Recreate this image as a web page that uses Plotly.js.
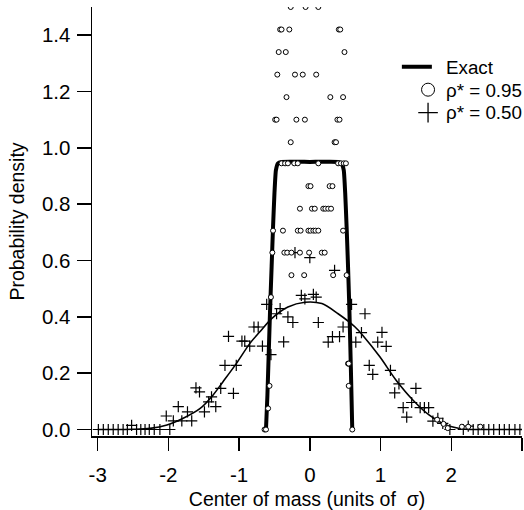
<!DOCTYPE html>
<html><head><meta charset="utf-8">
<script src="https://cdn.plot.ly/plotly-3.0.1.min.js"></script>
<style>html,body{margin:0;padding:0;background:#fff}#chart{width:524px;height:510px}</style>
</head><body><div id="chart"></div>
<script>
// Exact curve (thick), rho* = 0.95
const exactX = [-0.62, -0.60, -0.58, -0.56, -0.54, -0.52, -0.50, -0.48, -0.45, -0.40, 0.00, 0.40, 0.45, 0.48, 0.50, 0.52, 0.54, 0.56, 0.58, 0.60];
const exactY = [0.00, 0.12, 0.28, 0.44, 0.58, 0.72, 0.84, 0.92, 0.945, 0.95, 0.95, 0.95, 0.945, 0.92, 0.84, 0.72, 0.58, 0.42, 0.22, 0.00];

// Exact curve (thin), rho* = 0.50
const fitX = [-3.0, -2.5, -2.26, -2.02, -1.79, -1.55, -1.37, -1.23, -1.04, -0.85, -0.71, -0.54, -0.31, -0.07, 0.17, 0.40, 0.64, 0.75, 0.99, 1.22, 1.46, 1.69, 1.93, 2.17, 2.5, 3.0];
const fitY = [0.0, 0.001, 0.004, 0.016, 0.040, 0.075, 0.122, 0.169, 0.234, 0.305, 0.346, 0.394, 0.435, 0.452, 0.447, 0.411, 0.364, 0.334, 0.258, 0.175, 0.104, 0.051, 0.016, 0.002, 0.0, 0.0];

// Simulation, rho* = 0.95 (circles)
const circX = [
  -0.27, -0.06, 0.12,
  -0.42, -0.40, -0.29, 0.41, 0.43,
  -0.44, -0.34, 0.49,
  -0.46, -0.21, -0.10, 0.09,
  -0.33, 0.29, 0.47,
  -0.49, -0.47, -0.19, -0.07, 0.39, 0.42,
  -0.27, 0.35, 0.37,
  -0.40, -0.35, -0.31, -0.22, -0.17, 0.12, 0.40, 0.44, 0.48, 0.51,
  -0.02, 0.01, 0.28, 0.32,
  -0.14, 0.03, 0.07, 0.19, 0.22, 0.26, 0.30,
  -0.52, -0.38, -0.17, -0.13, -0.02, 0.01, 0.05, 0.08, 0.12, 0.47,
  -0.53, -0.36, -0.32, -0.26, -0.14, -0.01, 0.17, 0.21,
  -0.26, -0.08, 0.33, 0.52,
  -0.55,
  0.54, 0.55,
  -0.57, 0.55,
  -0.59,
  -0.64, -0.62, 0.60,
  1.80, 1.89, 1.95, 2.15, 2.24, 2.41
];
const circY = [
  1.50, 1.50, 1.50,
  1.42, 1.42, 1.42, 1.42, 1.42,
  1.34, 1.34, 1.34,
  1.26, 1.26, 1.26, 1.26,
  1.18, 1.18, 1.18,
  1.10, 1.10, 1.10, 1.10, 1.10, 1.10,
  1.02, 1.02, 1.02,
  0.945, 0.945, 0.945, 0.945, 0.945, 0.945, 0.945, 0.945, 0.945, 0.945,
  0.864, 0.864, 0.864, 0.864,
  0.784, 0.784, 0.784, 0.784, 0.784, 0.784, 0.784,
  0.706, 0.706, 0.706, 0.706, 0.706, 0.706, 0.706, 0.706, 0.706, 0.706,
  0.628, 0.628, 0.628, 0.628, 0.628, 0.628, 0.628, 0.628,
  0.548, 0.548, 0.548, 0.548,
  0.47,
  0.234, 0.234,
  0.155, 0.155,
  0.075,
  0.0, 0.0, 0.0,
  0.035, 0.02, 0.005, 0.01, 0.01, 0.01
];

// Simulation, rho* = 0.50 (pluses)
const plusX = [
  -2.99, -2.92, -2.85, -2.78, -2.71, -2.64, -2.58, -2.52, -2.45, -2.39, -2.33, -2.27, -2.20, -2.12, -1.98,
  -2.03, -1.93, -1.86, -1.81, -1.73, -1.67, -1.61, -1.56, -1.49, -1.43, -1.39, -1.33, -1.26, -1.20, -1.15, -1.08, -1.04,
  -0.96, -0.92, -0.85, -0.79, -0.73, -0.67, -0.61, -0.55,
  -0.47, -0.42, -0.37, -0.31, -0.24, -0.12, -0.07, 0.05, 0.09, 0.12, 0.26, 0.32, 0.42, 0.47,
  0.59, 0.65, 0.73, 0.78, 0.84, 0.89, 0.96, 1.02, 1.08, 1.14, 1.20, 1.26, 1.32, 1.37, 1.44, 1.50,
  1.56, 1.62, 1.68, 1.74, 1.81, 1.88,
  -0.21, 0.00, 0.35,
  1.98, 2.17, 2.24, 2.31, 2.38, 2.46, 2.53, 2.60, 2.68, 2.75, 2.82, 2.90, 2.97
];
const plusY = [
  0, 0, 0, 0, 0, 0, 0, 0.015, 0, 0, 0, 0, 0, 0, 0,
  0.048, 0.031, 0.081, 0.031, 0.063, 0.031, 0.148, 0.134, 0.063, 0.098, 0.116, 0.081, 0.146, 0.228, 0.331, 0.128, 0.228,
  0.314, 0.314, 0.296, 0.364, 0.364, 0.296, 0.444, 0.266,
  0.411, 0.429, 0.311, 0.40, 0.38, 0.476, 0.464, 0.48, 0.47, 0.38, 0.31, 0.33, 0.33, 0.364,
  0.444, 0.31, 0.344, 0.411, 0.228, 0.196, 0.31, 0.345, 0.295, 0.21, 0.13, 0.162, 0.078, 0.044, 0.096, 0.146,
  0.078, 0.078, 0.078, 0.03, 0.04, 0.022,
  0.628, 0.61, 0.565,
  0.0, 0.0, 0.012, 0.0, 0.0, 0.0, 0.0, 0.0, 0.0, 0.0, 0.0, 0.0, 0.0
];

const legendNames = ['Exact', 'ρ* = 0.95', 'ρ* = 0.50'];
const xTickVals = [-3, -2, -1, 0, 1, 2, 3];
const xTickText = ['-3', '-2', '-1', '0', '1', '2', '3'];
const yTickVals = [0, 0.2, 0.4, 0.6, 0.8, 1.0, 1.2, 1.4];
const yTickText = ['0.0', '0.2', '0.4', '0.6', '0.8', '1.0', '1.2', '1.4'];

const FONT = 'Liberation Sans, Arial, Helvetica, sans-serif';
const legendRowsY = [0.860, 0.8065, 0.753];  // paper positions of the three key rows

const traces = [
  {x: fitX, y: fitY, mode: 'lines', line: {color: '#000', width: 1.6, shape: 'spline', smoothing: 0.8},
   showlegend: false, hoverinfo: 'skip'},
  {x: exactX, y: exactY, mode: 'lines', name: ' ', legend: 'legend',
   line: {color: '#000', width: 4, shape: 'spline', smoothing: 0.4}},
  {x: plusX, y: plusY, mode: 'markers', showlegend: false,
   marker: {symbol: 'cross-thin-open', size: 8, color: '#000', line: {color: '#000', width: 1.2}}},
  {x: circX, y: circY, mode: 'markers', showlegend: false,
   marker: {symbol: 'circle', size: 5, color: '#fff', line: {color: '#000', width: 1}}},
  // legend-only key symbols (no data drawn)
  {x: [null], y: [null], mode: 'markers', name: ' ', legend: 'legend2',
   marker: {symbol: 'circle-open', size: 13, color: '#000', line: {color: '#000', width: 1}}},
  {x: [null], y: [null], mode: 'markers', name: ' ', legend: 'legend3',
   marker: {symbol: 'cross-thin-open', size: 14, color: '#000', line: {color: '#000', width: 1.3}}}
];

function legendAt(xPaper, yPaper) {
  return {x: xPaper, y: yPaper, xanchor: 'left', yanchor: 'middle', bgcolor: 'rgba(0,0,0,0)',
          font: {family: FONT, size: 19.5, color: '#000'}, itemsizing: 'trace', tracegroupgap: 0};
}

const annotations = legendNames.map((t, i) => ({
  text: t, xref: 'paper', yref: 'paper', x: 0.819, y: legendRowsY[i],
  xanchor: 'left', yanchor: 'middle', showarrow: false,
  font: {family: FONT, size: 18.8, color: '#000'}
}));

const layout = {
  width: 524, height: 510,
  margin: {l: 92, r: 2, t: 7, b: 74, autoexpand: false},
  paper_bgcolor: '#fff', plot_bgcolor: '#fff',
  font: {family: FONT, size: 20, color: '#000'},
  showlegend: true,
  legend: legendAt(0.709, legendRowsY[0]),
  legend2: legendAt(0.735, legendRowsY[1]),
  legend3: legendAt(0.735, legendRowsY[2]),
  annotations: annotations,
  xaxis: {range: [-3.08, 3.0], showgrid: false, zeroline: false, showline: true, linecolor: '#000', linewidth: 1.5,
          ticks: 'outside', ticklen: 13, tickwidth: 1.5, tickcolor: '#000',
          tickvals: xTickVals, ticktext: xTickText, ticklabelstandoff: 7,
          tickfont: {family: FONT, size: 20.5},
          title: {text: 'Center of mass (units of  σ)', font: {family: FONT, size: 19.5}, standoff: 7}},
  yaxis: {range: [-0.023, 1.5], showgrid: false, zeroline: false, showline: true, linecolor: '#000', linewidth: 1.5,
          ticks: 'outside', ticklen: 14, tickwidth: 1.5, tickcolor: '#000',
          tickvals: yTickVals, ticktext: yTickText, ticklabelstandoff: 2,
          tickfont: {family: FONT, size: 20.5},
          title: {text: 'Probability density', font: {family: FONT, size: 19.5}, standoff: 12}}
};

Plotly.newPlot('chart', traces, layout, {staticPlot: true, displayModeBar: false});
</script>
</body></html>
